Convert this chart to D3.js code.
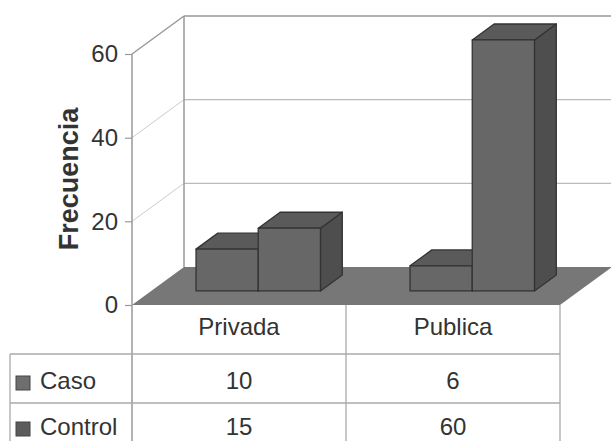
<!DOCTYPE html>
<html>
<head>
<meta charset="utf-8">
<script src="https://cdn.jsdelivr.net/npm/d3@7"></script>
<style>
  body { margin: 0; background: #fff; }
  #chart { width: 611px; height: 441px; }
  text { font-family: "Liberation Sans", Arial, sans-serif; fill: #333; }
</style>
</head>
<body>
<div id="chart"></div>
<script>
// data
const categories = ["Privada", "Publica"];
const seriesNames = ["Caso", "Control"];
const casoValues = [10, 6];
const controlValues = [15, 60];
const yTicks = [0, 20, 40, 60];
const yLabel = "Frecuencia";

class BarTable3D {

    constructor(parentElement) {
        this.parentElement = parentElement;
        this.rows = [casoValues, controlValues];
        this.initVis();
    }

    initVis() {
        let vis = this;

        vis.svg = d3.select(vis.parentElement)
            .append("svg")
            .attr("width", 611)
            .attr("height", 441);

        // front plane + depth of the box
        vis.left = 132;
        vis.right = 560;
        vis.depthX = 52;
        vis.depthY = -38;

        vis.y = d3.scaleLinear()
            .domain([0, 60])
            .range([305, 54]);

        vis.x = d3.scaleBand()
            .domain(categories)
            .range([vis.left, vis.right])
            .padding(0);

        vis.xSeries = d3.scaleBand()
            .domain(seriesNames)
            .range([0, vis.x.bandwidth()])
            .paddingInner(0)
            .paddingOuter(0.72);

        // depth helper, z in [0,1]
        vis.pt = (x, y, z) => [x + vis.depthX * z, y + vis.depthY * z];

        vis.updateVis();
    }

    updateVis() {
        let vis = this;
        const y0 = vis.y(0), yTop = vis.y(60);
        const poly = pts => pts.map(p => p.join(",")).join(" ");

        // back wall
        const bw = vis.svg.append("g");
        bw.append("polygon")
            .attr("points", poly([vis.pt(vis.left, yTop, 1), vis.pt(640, yTop, 1), vis.pt(640, y0, 1), vis.pt(vis.left, y0, 1)]))
            .attr("fill", "#fff");

        // grid lines: back wall + side wall
        yTicks.filter(t => t > 0).forEach(t => {
            const isTop = t === 60;
            bw.append("line")
                .attr("x1", vis.pt(vis.left, vis.y(t), 1)[0]).attr("y1", vis.pt(vis.left, vis.y(t), 1)[1])
                .attr("x2", 611).attr("y2", vis.pt(vis.left, vis.y(t), 1)[1])
                .attr("stroke", isTop ? "#999" : "#bbb")
                .attr("stroke-width", isTop ? 1.5 : 1.2);
            bw.append("line")
                .attr("x1", vis.left).attr("y1", vis.y(t))
                .attr("x2", vis.pt(vis.left, vis.y(t), 1)[0]).attr("y2", vis.pt(vis.left, vis.y(t), 1)[1])
                .attr("stroke", isTop ? "#999" : "#ccc")
                .attr("stroke-width", isTop ? 1.5 : 1);
        });

        // back wall left edge
        bw.append("line")
            .attr("x1", vis.pt(vis.left, yTop, 1)[0]).attr("y1", vis.pt(vis.left, yTop, 1)[1])
            .attr("x2", vis.pt(vis.left, y0, 1)[0]).attr("y2", vis.pt(vis.left, y0, 1)[1])
            .attr("stroke", "#999")
            .attr("stroke-width", 1.5);

        // floor
        vis.svg.append("polygon")
            .attr("points", poly([vis.pt(vis.left, y0, 0), vis.pt(vis.right, y0, 0), vis.pt(vis.right, y0, 1), vis.pt(vis.left, y0, 1)]))
            .attr("fill", "#777");

        // bars
        const z0 = 0.37, z1 = 0.79;
        const bars = vis.svg.append("g");
        categories.forEach((cat, ci) => {
            seriesNames.forEach((s, si) => {
                const v = vis.rows[si][ci];
                const xa = vis.x(cat) + vis.xSeries(s);
                const xb = xa + vis.xSeries.bandwidth();
                const yv = vis.y(v);
                const g = bars.append("g")
                    .attr("stroke", "#333")
                    .attr("stroke-width", 1.3)
                    .attr("stroke-linejoin", "round");
                // side
                g.append("polygon")
                    .attr("points", poly([vis.pt(xb, yv, z0), vis.pt(xb, yv, z1), vis.pt(xb, y0, z1), vis.pt(xb, y0, z0)]))
                    .attr("fill", "#4e4e4e");
                // top
                g.append("polygon")
                    .attr("points", poly([vis.pt(xa, yv, z0), vis.pt(xb, yv, z0), vis.pt(xb, yv, z1), vis.pt(xa, yv, z1)]))
                    .attr("fill", "#5a5a5a");
                // front
                g.append("polygon")
                    .attr("points", poly([vis.pt(xa, yv, z0), vis.pt(xb, yv, z0), vis.pt(xb, y0, z0), vis.pt(xa, y0, z0)]))
                    .attr("fill", "#676767");
            });
        });

        // front y axis line + top diagonal
        vis.svg.append("line")
            .attr("x1", vis.left).attr("y1", yTop)
            .attr("x2", vis.left).attr("y2", 441)
            .attr("stroke", "#999").attr("stroke-width", 1.5);

        const yAxis = d3.axisLeft(vis.y)
            .tickValues(yTicks)
            .tickSize(7)
            .tickPadding(7);

        vis.svg.append("g")
            .attr("class", "y-axis")
            .attr("transform", `translate(${vis.left},0)`)
            .call(yAxis)
            .call(g => g.select(".domain").remove())
            .call(g => g.selectAll("line").attr("stroke", "#999").attr("stroke-width", 1.2))
            .call(g => g.selectAll("text")
                .attr("font-size", 24)
                .attr("font-family", "Liberation Sans, Arial, sans-serif")
                .attr("fill", "#333"));

        vis.svg.append("text")
            .attr("transform", "translate(78,179) rotate(-90)")
            .attr("text-anchor", "middle")
            .attr("font-size", 27)
            .attr("font-weight", "bold")
            .text(yLabel);

        // data table
        const tbl = vis.svg.append("g");
        const lineColor = "#aaa";
        [vis.x.range()[0] + vis.x.step(), vis.right].forEach(xv => {
            tbl.append("line")
                .attr("x1", xv).attr("y1", y0)
                .attr("x2", xv).attr("y2", 441)
                .attr("stroke", lineColor).attr("stroke-width", 1.3);
        });
        [354, 403].forEach(yv => {
            tbl.append("line")
                .attr("x1", 10).attr("y1", yv)
                .attr("x2", vis.right).attr("y2", yv)
                .attr("stroke", lineColor).attr("stroke-width", 1.3);
        });
        tbl.append("line")
            .attr("x1", 10).attr("y1", 354)
            .attr("x2", 10).attr("y2", 441)
            .attr("stroke", lineColor).attr("stroke-width", 1.3);

        categories.forEach(cat => {
            tbl.append("text")
                .attr("x", vis.x(cat) + vis.x.bandwidth() / 2)
                .attr("y", 335)
                .attr("text-anchor", "middle")
                .attr("font-size", 24)
                .text(cat);
        });

        const rowBase = [389, 435];
        const keyFill = ["#6e6e6e", "#5c5c5c"];
        seriesNames.forEach((s, si) => {
            tbl.append("rect")
                .attr("x", 16).attr("y", rowBase[si] - 13)
                .attr("width", 14).attr("height", 14)
                .attr("fill", keyFill[si])
                .attr("stroke", "#444").attr("stroke-width", 1);
            tbl.append("text")
                .attr("x", 40).attr("y", rowBase[si])
                .attr("font-size", 24)
                .text(s);
            categories.forEach((cat, ci) => {
                tbl.append("text")
                    .attr("x", vis.x(cat) + vis.x.bandwidth() / 2)
                    .attr("y", rowBase[si])
                    .attr("text-anchor", "middle")
                    .attr("font-size", 24)
                    .text(vis.rows[si][ci]);
            });
        });
    }
}

new BarTable3D("#chart");
</script>
</body>
</html>
